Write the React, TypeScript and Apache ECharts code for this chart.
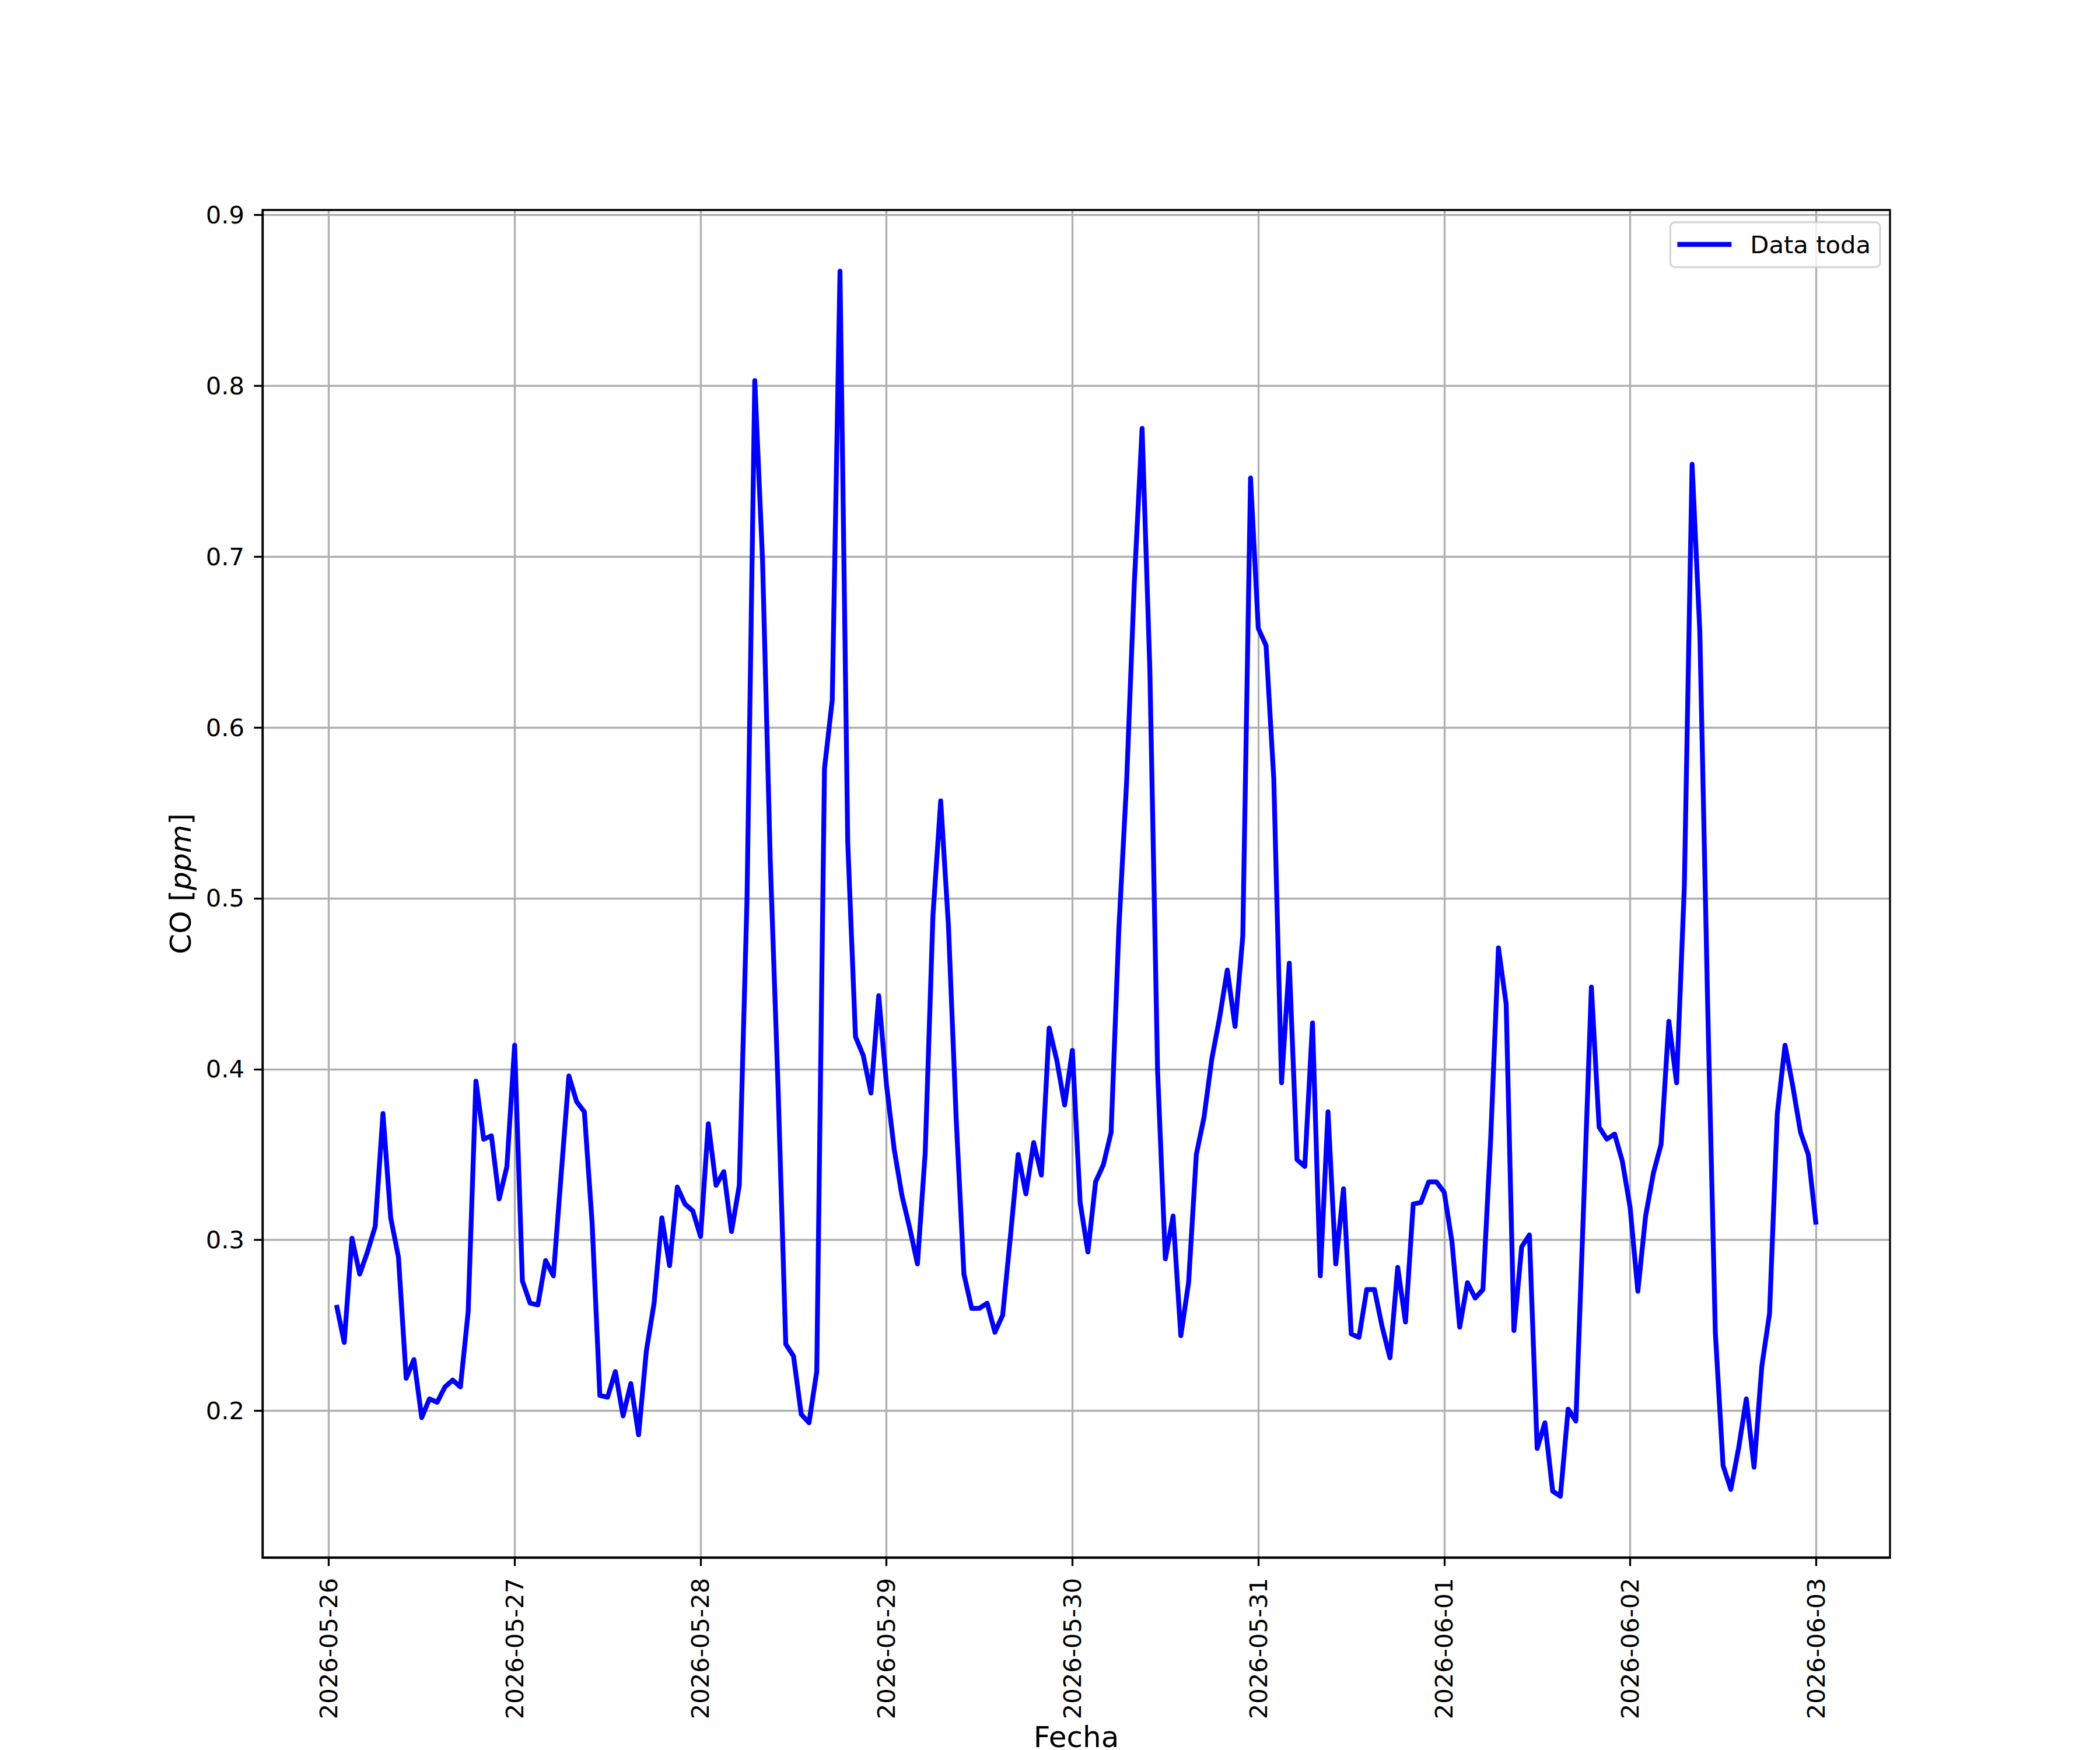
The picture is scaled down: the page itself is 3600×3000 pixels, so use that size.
import React, { useEffect, useRef } from "react";
import * as echarts from "echarts";

// Tick labels on the date axis (midnight of each day)
const dayLabels = [
  "2026-05-26", "2026-05-27", "2026-05-28", "2026-05-29", "2026-05-30",
  "2026-05-31", "2026-06-01", "2026-06-02", "2026-06-03",
];

// Hourly CO [ppm], each block runs 01:00 .. 24:00 of the named day
const co0526 = [0.262, 0.240, 0.301, 0.280, 0.293, 0.308, 0.374, 0.313, 0.290, 0.219, 0.230, 0.196, 0.207, 0.205, 0.214, 0.218, 0.214, 0.258, 0.393, 0.359, 0.361, 0.324, 0.343, 0.414];
const co0527 = [0.276, 0.263, 0.262, 0.288, 0.279, 0.338, 0.396, 0.381, 0.375, 0.310, 0.209, 0.208, 0.223, 0.197, 0.216, 0.186, 0.235, 0.263, 0.313, 0.285, 0.331, 0.321, 0.317, 0.302];
const co0528 = [0.368, 0.332, 0.340, 0.305, 0.332, 0.500, 0.803, 0.698, 0.522, 0.390, 0.239, 0.232, 0.198, 0.193, 0.223, 0.576, 0.616, 0.867, 0.533, 0.419, 0.408, 0.386, 0.443, 0.391];
const co0529 = [0.353, 0.326, 0.307, 0.286, 0.351, 0.490, 0.557, 0.484, 0.371, 0.280, 0.260, 0.260, 0.263, 0.246, 0.256, 0.302, 0.350, 0.327, 0.357, 0.338, 0.424, 0.405, 0.379, 0.411];
const co0530 = [0.322, 0.293, 0.334, 0.344, 0.363, 0.482, 0.568, 0.685, 0.775, 0.634, 0.399, 0.289, 0.314, 0.244, 0.275, 0.350, 0.372, 0.406, 0.430, 0.458, 0.425, 0.478, 0.746, 0.658];
const co0531 = [0.648, 0.570, 0.392, 0.462, 0.347, 0.343, 0.427, 0.279, 0.375, 0.286, 0.330, 0.245, 0.243, 0.271, 0.271, 0.249, 0.231, 0.284, 0.252, 0.321, 0.322, 0.334, 0.334, 0.328];
const co0601 = [0.299, 0.249, 0.275, 0.266, 0.271, 0.359, 0.471, 0.438, 0.247, 0.296, 0.303, 0.178, 0.193, 0.153, 0.150, 0.201, 0.194, 0.320, 0.448, 0.366, 0.359, 0.362, 0.346, 0.319];
const co0602 = [0.270, 0.314, 0.339, 0.356, 0.428, 0.392, 0.507, 0.754, 0.656, 0.440, 0.246, 0.168, 0.154, 0.178, 0.207, 0.167, 0.226, 0.257, 0.374, 0.414, 0.390, 0.363, 0.350, 0.309];

const yTicks = [0.2, 0.3, 0.4, 0.5, 0.6, 0.7, 0.8, 0.9];

const seriesName = "Data toda";
const xTitle = "Fecha";

const FONT = "DejaVu Sans";

export default function App() {
  const ref = useRef<HTMLDivElement>(null);

  useEffect(() => {
    if (!ref.current) return;
    const blocks = [co0526, co0527, co0528, co0529, co0530, co0531, co0601, co0602];
    const points: [number, number][] = [];
    blocks.forEach((arr, d) => arr.forEach((v, h) => points.push([d * 24 + h + 1, v])));

    const xs = points.map((p) => p[0]);
    const ys = points.map((p) => p[1]);
    const xMinD = Math.min(...xs), xMaxD = Math.max(...xs);
    const yMinD = Math.min(...ys), yMaxD = Math.max(...ys);
    const xPad = 0.05 * (xMaxD - xMinD);
    const yPad = 0.05 * (yMaxD - yMinD);
    const xTicks = dayLabels.map((_, i) => i * 24);

    const chart = echarts.init(ref.current, null, { renderer: "svg" });
    const option: any = {
      animation: false,
      backgroundColor: "#ffffff",
      grid: {
        left: 450,
        right: 360,
        top: 360,
        bottom: 330,
        show: true,
        borderColor: "#000000",
        borderWidth: 3.3,
        backgroundColor: "transparent",
        containLabel: false,
        outerBoundsMode: "none",
        z: 3,
      },
      legend: {
        data: [{ name: seriesName, icon: "rect" }],
        right: 377,
        top: 381,
        itemWidth: 93,
        itemHeight: 8.3,
        padding: [17, 16, 18, 12],
        backgroundColor: "rgba(255,255,255,0.8)",
        borderColor: "rgba(204,204,204,0.8)",
        borderWidth: 3.3,
        borderRadius: 8,
        itemStyle: { color: "#0000ff", borderWidth: 0 },
        textStyle: {
          fontFamily: FONT,
          fontSize: 41.7,
          color: "#000000",
          padding: [0, 0, 0, 27],
        },
      },
      xAxis: {
        type: "value",
        min: xMinD - xPad,
        max: xMaxD + xPad,
        axisLine: { show: true, onZero: false, lineStyle: { color: "#000000", width: 3.3 } },
        axisTick: {
          show: true,
          customValues: xTicks,
          length: 14.6,
          lineStyle: { color: "#000000", width: 3.3 },
        },
        axisLabel: {
          customValues: xTicks,
          rotate: 90,
          margin: 35,
          fontFamily: FONT,
          fontSize: 41.7,
          color: "#000000",
          formatter: (v: number) => dayLabels[Math.round(v / 24)] ?? "",
        },
        splitLine: { show: true, lineStyle: { color: "#b0b0b0", width: 3.3 } },
      },
      yAxis: {
        type: "value",
        min: yMinD - yPad,
        max: yMaxD + yPad,
        axisLine: { show: true, onZero: false, lineStyle: { color: "#000000", width: 3.3 } },
        axisTick: {
          show: true,
          customValues: yTicks,
          length: 14.6,
          lineStyle: { color: "#000000", width: 3.3 },
        },
        axisLabel: {
          customValues: yTicks,
          margin: 31,
          fontFamily: FONT,
          fontSize: 41.7,
          color: "#000000",
          formatter: (v: number) => v.toFixed(1),
        },
        splitLine: { show: true, lineStyle: { color: "#b0b0b0", width: 3.3 } },
      },
      series: [
        {
          name: seriesName,
          type: "line",
          data: points,
          symbol: "none",
          showSymbol: false,
          lineStyle: { color: "#0000ff", width: 8.3, join: "round", cap: "butt" },
          itemStyle: { color: "#0000ff" },
          z: 2,
        },
      ],
      graphic: [
        {
          type: "text",
          x: 1845,
          y: 2978,
          style: {
            text: xTitle,
            fontFamily: FONT,
            fontSize: 50,
            fill: "#000000",
            textAlign: "center",
            textVerticalAlign: "middle",
          },
        },
        {
          type: "text",
          x: 310,
          y: 1515,
          rotation: Math.PI / 2,
          style: {
            text: "{a|CO [}{b|ppm}{a|]}",
            textAlign: "center",
            textVerticalAlign: "middle",
            rich: {
              a: { fontFamily: FONT, fontSize: 50, fill: "#000000", color: "#000000" },
              b: { fontFamily: FONT, fontSize: 50, fontStyle: "italic", fill: "#000000", color: "#000000" },
            },
          },
        },
      ],
    };
    chart.setOption(option);
    return () => chart.dispose();
  }, []);

  return (
    <div
      ref={ref}
      style={{ position: "absolute", left: 0, top: 0, width: 3600, height: 3000 }}
    />
  );
}
